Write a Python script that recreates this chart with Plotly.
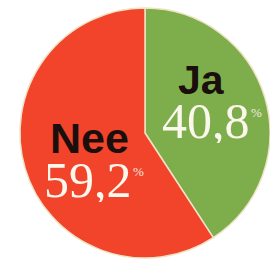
import plotly.graph_objects as go

labels = ["Ja", "Nee"]
values = [40.8, 59.2]
colors = ["#7eae4b", "#f1442b"]

W, H = 270, 269

fig = go.Figure(go.Pie(
    labels=labels, values=values, sort=False, direction="clockwise", rotation=0,
    marker=dict(colors=colors, line=dict(color="#efe3c4", width=1.5)),
    textinfo="none", hoverinfo="label+percent", showlegend=False,
    domain=dict(x=[20 / W, 1.0], y=[1 - 258 / H, 1 - 8 / H]),
))

def fmt(v):
    return f"{v:.1f}".replace(".", ",")

# label positions in pixels (left edge / vertical center)
label_pos = {"Ja": (176, 80), "Nee": (48, 138)}
num_pos = {"Ja": (160, 121), "Nee": (42, 180)}
pct_pos = {"Ja": (249, 112), "Nee": (131, 171)}

ann = []
for lab, val in zip(labels, values):
    lx, ly = label_pos[lab]
    ann.append(dict(x=lx / W, y=1 - ly / H, xref="paper", yref="paper", xanchor="left", yanchor="middle",
                    text=f"<b>{lab}</b>", showarrow=False, height=40, valign="middle",
                    font=dict(family="Liberation Sans, Arial", size=41 if lab == "Ja" else 43, color="#1a0f0c")))
    nx, ny = num_pos[lab]
    ann.append(dict(x=nx / W, y=1 - ny / H, xref="paper", yref="paper", xanchor="left", yanchor="middle",
                    text=fmt(val), showarrow=False, height=44, valign="middle",
                    font=dict(family="Liberation Serif, Times New Roman", size=50, color="#fbf7ec")))
    px, py = pct_pos[lab]
    ann.append(dict(x=px / W, y=1 - py / H, xref="paper", yref="paper", xanchor="left", yanchor="middle",
                    text="%", showarrow=False,
                    font=dict(family="Liberation Serif, Times New Roman", size=13, color="#f3ece0")))

fig.update_layout(width=W, height=H, margin=dict(l=0, r=0, t=0, b=0),
                  paper_bgcolor="white", plot_bgcolor="white", annotations=ann)

fig.write_html("out.html", config={"displayModeBar": False},
               post_script="document.body.style.margin='0px';document.body.style.overflow='hidden';")
